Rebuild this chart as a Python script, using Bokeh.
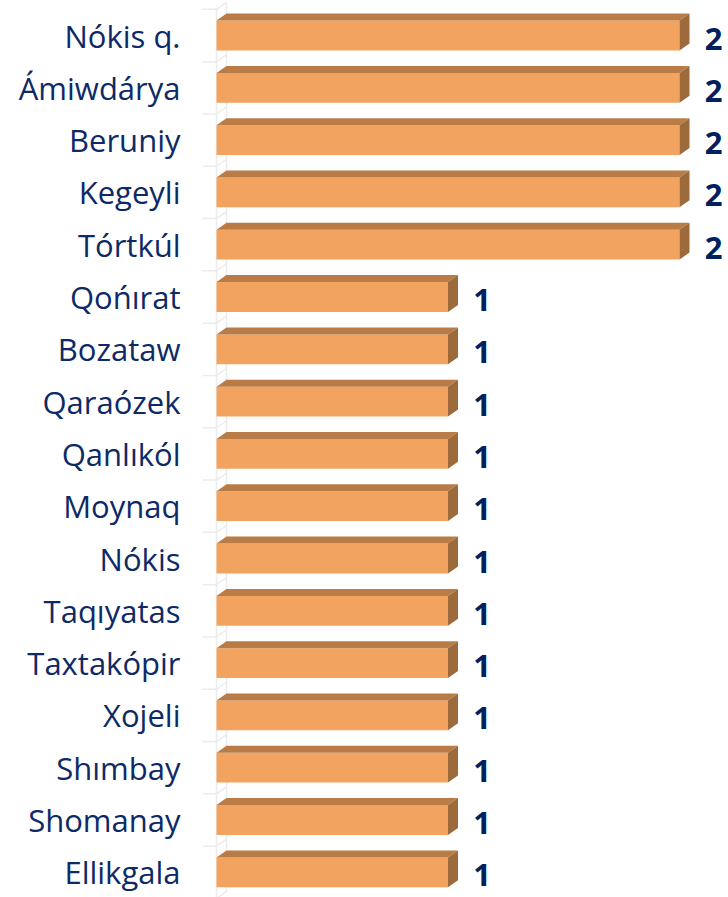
from bokeh.plotting import figure
from bokeh.models import Range1d
from bokeh.core.properties import value
from bokeh.embed import file_html
from bokeh.resources import INLINE

# ---- data ----
districts = ["Nókis q.", "Ámiwdárya", "Beruniy", "Kegeyli", "Tórtkúl", "Qońırat",
             "Bozataw", "Qaraózek", "Qanlıkól", "Moynaq", "Nókis", "Taqıyatas",
             "Taxtakópir", "Xojeli", "Shımbay", "Shomanay", "Ellikgala"]
counts = [2, 2, 2, 2, 2, 1, 1, 1, 1, 1, 1, 1, 1, 1, 1, 1, 1]

# ---- geometry / style ----
W, H = 728, 897
X_ZERO_PX = 216.0        # px of x=0 within figure
X_UNIT_PX = 231.5        # px per unit
Y_FIRST_PX = 35.0        # px of first bar centre
Y_STEP_PX = 52.3         # px between bars
bar_h = 0.57
dx = 10.0 / X_UNIT_PX
dy = 7.0 / Y_STEP_PX

FRONT = "#F1A35F"
TOP = "#B97C46"
SIDE = "#9C6A3B"
TEXT = "#0D2A66"
VAL = "#002060"

x_start = -X_ZERO_PX / X_UNIT_PX
x_end = (W - X_ZERO_PX) / X_UNIT_PX
y_top = -Y_FIRST_PX / Y_STEP_PX
y_bottom = (H - Y_FIRST_PX) / Y_STEP_PX

p = figure(width=W, height=H, output_backend="svg", toolbar_location=None,
           x_range=Range1d(x_start, x_end), y_range=Range1d(y_bottom, y_top),
           min_border=0, x_axis_location=None, y_axis_location=None)
p.outline_line_color = None
p.grid.visible = False
p.background_fill_color = "white"
p.border_fill_color = "white"

idx = list(range(len(districts)))
n = len(districts)

# faint axis wall
p.segment(x0=[0, dx], y0=[-0.5, -0.5 - dy], x1=[0, dx], y1=[n - 0.5, n - 0.5 - dy],
          line_color="#ECECEC", line_width=1.5)
p.segment(x0=[0] * (n + 1), y0=[i - 0.5 for i in range(n + 1)],
          x1=[dx] * (n + 1), y1=[i - 0.5 - dy for i in range(n + 1)],
          line_color="#ECECEC", line_width=1.5)
ticks_y = [i - 0.5 for i in range(n + 1)]
p.segment(x0=[-14.0 / X_UNIT_PX] * (n + 1), y0=ticks_y, x1=[0] * (n + 1), y1=ticks_y,
          line_color="#ECECEC", line_width=1.5)

# front faces
p.hbar(y=idx, left=0, right=counts, height=bar_h, fill_color=FRONT, line_color=None)

# top and side faces
top_xs, top_ys, side_xs, side_ys = [], [], [], []
for i, v in zip(idx, counts):
    t = i - bar_h / 2
    b = i + bar_h / 2
    top_xs.append([0, v, v + dx, dx])
    top_ys.append([t, t, t - dy, t - dy])
    side_xs.append([v, v + dx, v + dx, v])
    side_ys.append([t, t - dy, b - dy, b])
p.patches(xs=top_xs, ys=top_ys, fill_color=TOP, line_color=None)
p.patches(xs=side_xs, ys=side_ys, fill_color=SIDE, line_color=None)

# category labels
p.text(x=[0] * n, y=idx, text=districts, text_align="right", text_baseline="middle",
       x_offset=-36, y_offset=0, text_font=value("Open Sans"), text_font_size="31px",
       text_color=TEXT)

# value labels
p.text(x=counts, y=idx, text=[str(c) for c in counts], text_align="center",
       text_baseline="middle", x_offset=34, y_offset=3, text_font=value("Open Sans"),
       text_font_size="31px", text_font_style="bold", text_color=VAL)

open("out.html", "w").write(file_html(p, INLINE))
